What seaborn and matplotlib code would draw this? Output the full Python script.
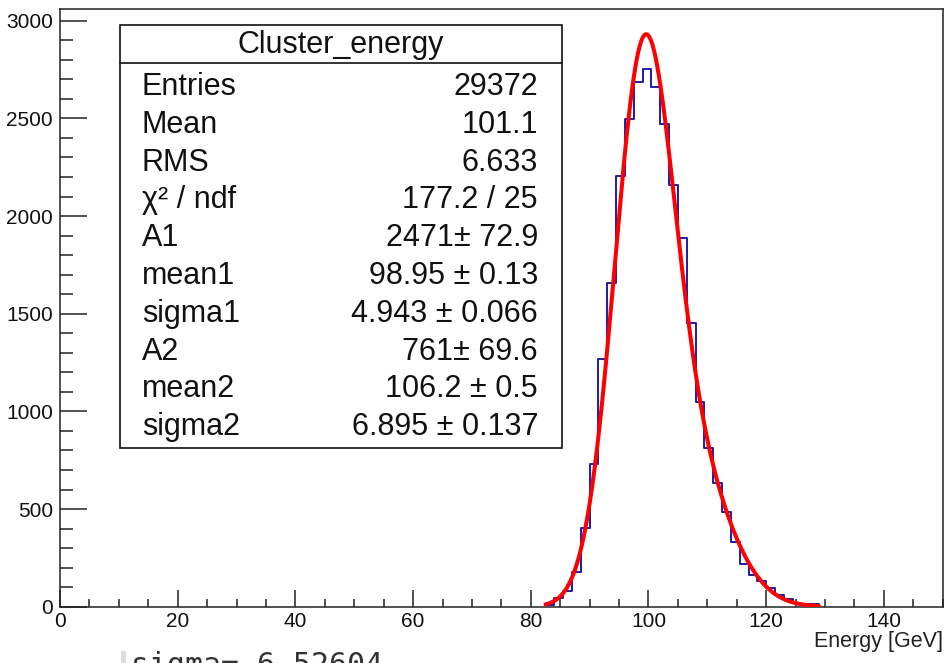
import numpy as np
import pandas as pd
import matplotlib
matplotlib.use("Agg")
import matplotlib.pyplot as plt
import seaborn as sns
from matplotlib.patches import Rectangle
from matplotlib.lines import Line2D
from matplotlib.ticker import MultipleLocator

# ---------------- data ----------------
bin_width = 1.5
first_edge = 82.5
counts = [9, 43, 80, 179, 405, 731, 1267, 1656, 2205, 2496, 2688, 2753,
          2663, 2470, 2159, 1886, 1454, 1046, 811, 635, 487, 330, 220, 161,
          130, 95, 62, 39, 21, 15, 14]

# double-gaussian fit parameters (from stats box)
fit_A1, fit_mean1, fit_sigma1 = 2471.0, 98.95, 4.943
fit_A2, fit_mean2, fit_sigma2 = 761.0, 106.2, 6.895
fit_range = (82.5, 129.0)

stats_title = "Cluster_energy"
stats_labels = ["Entries", "Mean", "RMS", "χ² / ndf", "A1", "mean1", "sigma1",
                "A2", "mean2", "sigma2"]
stats_values = ["29372", "101.1", "6.633", "177.2 / 25", "2471± 72.9",
                "98.95 ± 0.13", "4.943 ± 0.066", "761± 69.6", "106.2 ± 0.5",
                "6.895 ± 0.137"]

x_label = "Energy [GeV]"
bottom_note = "sigma= 6.52604"

# ---------------- figure ----------------
sns.set_theme(style="ticks")
plt.rcParams["font.family"] = ["Liberation Sans", "DejaVu Sans"]

W, H = 945, 663
fig = plt.figure(figsize=(W / 100, H / 100), dpi=100)
fig.patch.set_facecolor("white")

def fx(px):
    return px / W

def fy(py):
    return (H - py) / H

ax_left, ax_right, ax_top, ax_bottom = 60, 942.7, 8.5, 606.7
ax = fig.add_axes([fx(ax_left), fy(ax_bottom), fx(ax_right - ax_left),
                   (ax_bottom - ax_top) / H])
ax.set_facecolor("white")

n = len(counts)
centers = first_edge + bin_width * (np.arange(n) + 0.5)
edges = [float(e) for e in first_edge + bin_width * np.arange(n + 1)]
df = pd.DataFrame({"energy": centers, "count": np.asarray(counts, dtype=float)})

sns.histplot(data=df, x="energy", weights="count", bins=edges,
             element="step", fill=False, color="#1c1ca8", linewidth=1.4, ax=ax)

xf = np.linspace(fit_range[0], fit_range[1], 400)
yf = (fit_A1 * np.exp(-0.5 * ((xf - fit_mean1) / fit_sigma1) ** 2)
      + fit_A2 * np.exp(-0.5 * ((xf - fit_mean2) / fit_sigma2) ** 2))
sns.lineplot(x=xf, y=yf, color="#ff0000", linewidth=2.9, ax=ax, zorder=5)

ax.set_xlim(0, 150)
ax.set_ylim(0, (ax_bottom - ax_top) / 0.19533)
ax.set_xlabel("")
ax.set_ylabel("")

ax.xaxis.set_major_locator(MultipleLocator(20))
ax.xaxis.set_minor_locator(MultipleLocator(5))
ax.yaxis.set_major_locator(MultipleLocator(500))
ax.yaxis.set_minor_locator(MultipleLocator(100))

ax.tick_params(axis="x", which="major", direction="in", length=12.2, width=1.1,
               labelsize=15, pad=4, color="#222222", labelcolor="#111111")
ax.tick_params(axis="x", which="minor", direction="in", length=6, width=1.1,
               color="#222222")
ax.tick_params(axis="y", which="major", direction="in", length=19.4, width=1.1,
               labelsize=15, pad=5, color="#222222", labelcolor="#111111")
ax.tick_params(axis="y", which="minor", direction="in", length=9.4, width=1.1,
               color="#222222")
for s in ax.spines.values():
    s.set_visible(True)
    s.set_linewidth(1.1)
    s.set_color("#222222")

# ---------------- stats box ----------------
bx0, bx1, by0, by1, bsep = 120, 561.7, 25, 448, 62.7
fig.add_artist(Rectangle((fx(bx0), fy(by1)), fx(bx1 - bx0), (by1 - by0) / H,
                         transform=fig.transFigure, facecolor="white",
                         edgecolor="#111111", linewidth=1.2, zorder=10))
fig.add_artist(Line2D([fx(bx0), fx(bx1)], [fy(bsep), fy(bsep)],
                      transform=fig.transFigure, color="#111111",
                      linewidth=1.2, zorder=11))
fig.text(fx((bx0 + bx1) / 2), fy(53.3), stats_title, ha="center",
         va="baseline", fontsize=22, color="#111111", zorder=12)
for i, (lab, val) in enumerate(zip(stats_labels, stats_values)):
    yb = 95 + 37.8 * i
    fig.text(fx(141.7), fy(yb), lab, ha="left", va="baseline", fontsize=22,
             color="#111111", zorder=12)
    fig.text(fx(538), fy(yb), val, ha="right", va="baseline", fontsize=22,
             color="#111111", zorder=12)

# ---------------- axis label and bottom note ----------------
fig.text(fx(943), fy(647), x_label, ha="right", va="baseline", fontsize=15.5,
         color="#222222")

fig.add_artist(Rectangle((fx(120.7), 0), fx(5.3), fy(651) - 0,
                         transform=fig.transFigure, facecolor="#dddddd",
                         edgecolor="none"))
fig.text(fx(131), fy(674), bottom_note, ha="left", va="baseline", fontsize=21.5,
         family="DejaVu Sans Mono", color="#333333")

fig.savefig("out.png", dpi=100, facecolor="white")
